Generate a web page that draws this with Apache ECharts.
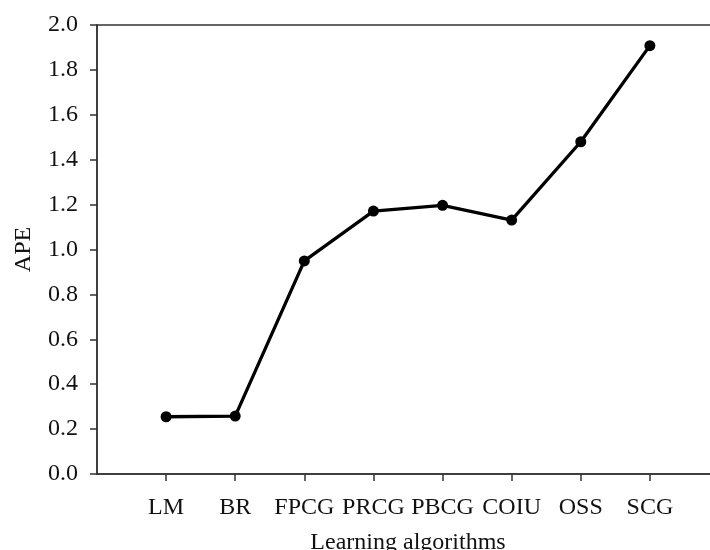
<!DOCTYPE html>
<html>
<head>
<meta charset="utf-8">
<script src="https://cdn.jsdelivr.net/npm/echarts@6/dist/echarts.min.js"></script>
<style>html,body{margin:0;padding:0;background:#fff;}#c{width:710px;height:550px;}</style>
</head>
<body>
<div id="c"></div>
<script>
var categories = ['LM', 'BR', 'FPCG', 'PRCG', 'PBCG', 'COIU', 'OSS', 'SCG'];
var apeValues = [0.255, 0.258, 0.949, 1.171, 1.197, 1.131, 1.480, 1.908];
var yTicks = [0, 0.2, 0.4, 0.6, 0.8, 1.0, 1.2, 1.4, 1.6, 1.8, 2.0];

var chart = echarts.init(document.getElementById('c'), null, {renderer: 'canvas'});
var font = 'Liberation Serif, Times New Roman, serif';
var axisColor = '#333';
var positions = categories.map(function (c, i) { return i + 1; });
var seriesData = apeValues.map(function (v, i) { return [i + 1, v]; });

chart.setOption({
  animation: false,
  backgroundColor: '#fff',
  grid: {
    left: 97, top: 25, bottom: 76, right: -9,
    outerBoundsMode: 'none', containLabel: false,
    show: true, borderColor: axisColor, borderWidth: 1.5, backgroundColor: 'transparent'
  },
  xAxis: {
    type: 'value', min: 0, max: 9, interval: 1,
    name: 'Learning algorithms', nameLocation: 'middle', nameGap: 57,
    nameTextStyle: {fontFamily: font, fontSize: 24, color: '#111'},
    axisLine: {show: true, onZero: false, lineStyle: {color: axisColor, width: 1.5}},
    axisTick: {show: true, length: 7, customValues: positions, lineStyle: {color: axisColor, width: 1.5}},
    axisLabel: {
      customValues: positions, margin: 22,
      fontFamily: font, fontSize: 24, color: '#111',
      formatter: function (v) { return categories[v - 1] || ''; }
    },
    splitLine: {show: false}
  },
  yAxis: {
    type: 'value', min: 0, max: 2, interval: 0.2,
    name: 'APE', nameLocation: 'middle', nameGap: 61,
    nameTextStyle: {fontFamily: font, fontSize: 24, color: '#111'},
    axisLine: {show: true, lineStyle: {color: axisColor, width: 1.5}},
    axisTick: {show: true, length: 7, lineStyle: {color: axisColor, width: 1.5}},
    axisLabel: {
      margin: 19, fontFamily: font, fontSize: 24, color: '#111',
      formatter: function (v) { return v.toFixed(1); }
    },
    splitLine: {show: false}
  },
  series: [{
    type: 'line',
    data: seriesData,
    symbol: 'circle', symbolSize: 11,
    lineStyle: {color: '#000', width: 3.3},
    itemStyle: {color: '#000'}
  }]
});
</script>
</body>
</html>
